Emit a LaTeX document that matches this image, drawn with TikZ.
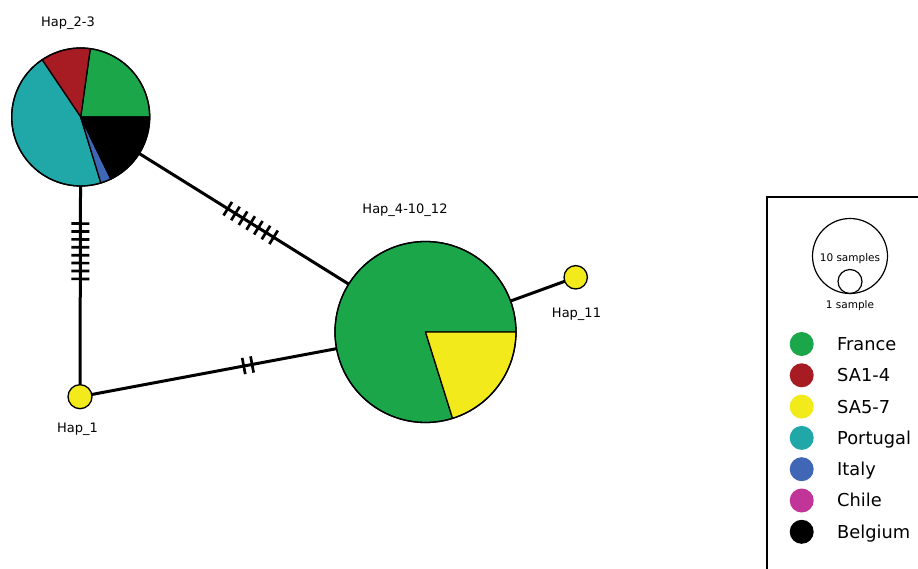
\documentclass[tikz,border=0pt]{standalone}
\usepackage{fontspec}
\setmainfont{DejaVu Sans}
\usetikzlibrary{calc}
\definecolor{cFrance}{HTML}{1BA64A}
\definecolor{cSAa}{HTML}{A61C22}
\definecolor{cSAb}{HTML}{F2EA1A}
\definecolor{cPortugal}{HTML}{20A8A8}
\definecolor{cItaly}{HTML}{3F67B5}
\definecolor{cChile}{HTML}{C03597}
\definecolor{cBelgium}{HTML}{000000}
\tikzset{
  edge/.style={line width=3pt, black},
  hatchline/.style={line width=2.7pt, black},
  pieout/.style={draw=black, line width=1.3pt, line join=round},
  hapnode/.style={circle, inner sep=0pt, outer sep=0pt},
  haplabel/.style={font=\fontsize{13}{15}\selectfont, inner sep=0pt, anchor=base},
  legtext/.style={font=\fontsize{17.8}{20}\selectfont, inner sep=0pt, anchor=base west},
  legsmall/.style={font=\fontsize{10.5}{12}\selectfont, inner sep=0pt, anchor=base},
  legdot/.style={circle, inner sep=0pt, outer sep=0pt, minimum size=24pt}
}
\newcommand\drawhatches[6]{% from, to, fraction, offsets, spacing, half length
  \coordinate (hm) at ($(#1)!#3!(#2)$);
  \foreach \d in {#4}{
    \coordinate (hp) at ($(hm)!{\d*#5}!(#2)$);
    \draw[hatchline] ($(hp)!#6!90:(#2)$) -- ($(hp)!#6!-90:(#2)$);
  }}
\newcommand\pieslice[5]{% center, radius, a1, a2, colour
  \filldraw[fill=#5, pieout] (#1) -- ++(#3:#2) arc[start angle=#3, end angle=#4, radius=#2] -- cycle;}
\begin{document}
\begin{tikzpicture}[x=1pt,y=1pt]
\clip (0,0) rectangle (918,568);
\fill[white] (0,0) rectangle (918,568);
% haplotype nodes (geometry)
\node[hapnode, minimum size=138pt] (h23) at (80.7,451) {};
\node[hapnode, minimum size=181pt] (h4) at (425.5,236) {};
\node[hapnode, minimum size=23.4pt] (h11) at (575.7,290.7) {};
\node[hapnode, minimum size=24pt] (h1) at (80,171.3) {};
% connectors
\draw[edge] (h23) -- (h1);
\draw[edge] (h23) -- (h4);
\draw[edge] (h1) -- (h4);
\draw[edge] (h11) -- (h4);
% mutation hatches
\drawhatches{h23.center}{h1.center}{0.48}{-3.5,-2.5,...,3.5}{7.9pt}{9pt}
\drawhatches{h23.center}{h4.center}{0.493}{-3,-2,...,3}{9pt}{8pt}
\drawhatches{h1.center}{h4.center}{0.486}{-0.5,0.5}{8.5pt}{8.3pt}
% pie Hap_2-3
\pieslice{h23.center}{69pt}{0}{82}{cFrance}
\pieslice{h23.center}{69pt}{82}{124}{cSAa}
\pieslice{h23.center}{69pt}{124}{287}{cPortugal}
\pieslice{h23.center}{69pt}{287}{296}{cItaly}
\pieslice{h23.center}{69pt}{296}{360}{cBelgium}
\draw[pieout] (h23.center) circle[radius=69pt];
% pie Hap_4-10_12
\pieslice{h4.center}{90.5pt}{0}{287.4}{cFrance}
\pieslice{h4.center}{90.5pt}{-72.6}{0}{cSAb}
\draw[pieout] (h4.center) circle[radius=90.5pt];
% small haplotypes
\filldraw[fill=cSAb, pieout] (h11.center) circle[radius=11.7pt];
\filldraw[fill=cSAb, pieout] (h1.center) circle[radius=12pt];
% labels
\node[haplabel] (l23) at (68,541.3) {Hap\_2-3};
\node[haplabel] (l4) at (405,354) {Hap\_4-10\_12};
\node[haplabel] (l11) at (576.5,250) {Hap\_11};
\node[haplabel] (l1) at (77.5,136) {Hap\_1};
% legend
\draw[line width=1.5pt] (767,-20) rectangle (940,371);
\node[circle, draw, line width=1.2pt, inner sep=0pt, minimum size=75pt] (s10) at (850,312) {};
\node[circle, draw, line width=1.2pt, inner sep=0pt, minimum size=24pt] (s1) at (850,286.5) {};
\node[legsmall] (t10) at (850,306.3) {10 samples};
\node[legsmall] (t1) at (850,259) {1 sample};
\foreach \c/\t [count=\i from 0] in {cFrance/France, cSAa/SA1-4, cSAb/SA5-7, cPortugal/Portugal, cItaly/Italy, cChile/Chile, cBelgium/Belgium}{
  \node[legdot, fill=\c] (d\i) at (801.7,{224-31.3*\i}) {};
  \node[legtext] (t\i) at (837,{224-31.3*\i-6.4}) {\t};
}
\end{tikzpicture}
\end{document}
